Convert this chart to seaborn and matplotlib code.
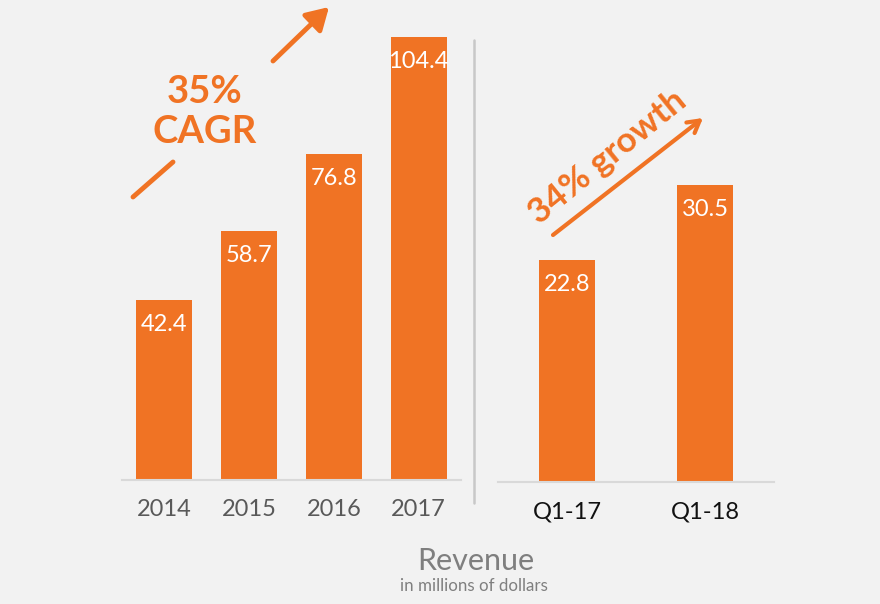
import matplotlib
matplotlib.use("Agg")

import matplotlib.pyplot as plt
import seaborn as sns
import pandas as pd

# Revenue data (millions of dollars)
years = ["2014", "2015", "2016", "2017"]
annual_revenue = [42.4, 58.7, 76.8, 104.4]
quarters = ["Q1-17", "Q1-18"]
quarter_revenue = [22.8, 30.5]

ORANGE = "#F07324"
BG = "#F2F2F2"
W, H = 880, 604

sns.set_theme(style="white")
plt.rcParams["font.family"] = ["Lato", "DejaVu Sans"]


def fig_xy(x, y):
    """Pixel position (top-left origin) -> figure fraction."""
    return (x / W, 1 - y / H)


fig = plt.figure(figsize=(W / 100, H / 100), dpi=100, facecolor=BG)

ax_left = fig.add_axes([122 / W, 124 / H, 339 / W, 466.7 / H])
ax_right = fig.add_axes([498 / W, 122 / H, 276 / W, 389 / H])

annual_df = pd.DataFrame({"year": years, "revenue": annual_revenue})
quarter_df = pd.DataFrame({"quarter": quarters, "revenue": quarter_revenue})

sns.barplot(data=annual_df, x="year", y="revenue", color=ORANGE, saturation=1,
            width=0.66, linewidth=0, ax=ax_left)
sns.barplot(data=quarter_df, x="quarter", y="revenue", color=ORANGE, saturation=1,
            width=0.40, linewidth=0, ax=ax_right)

ax_left.set_ylim(0, 110)
ax_left.set_xlim(-0.5, 3.5)
ax_right.set_ylim(0, 40)
ax_right.set_xlim(-0.5, 1.5)

for ax, tick_color in [(ax_left, "#595959"), (ax_right, "#111111")]:
    ax.set_facecolor(BG)
    for side in ["top", "right", "left"]:
        ax.spines[side].set_visible(False)
    ax.spines["bottom"].set_color("#D9D9D9")
    ax.spines["bottom"].set_linewidth(1.5)
    ax.set_yticks([])
    ax.set_xlabel("")
    ax.set_ylabel("")
    ax.tick_params(axis="x", length=0, pad=14, labelsize=17, labelcolor=tick_color)
    for patch in ax.patches:
        ax.annotate(
            f"{patch.get_height():.1f}",
            (patch.get_x() + patch.get_width() / 2, patch.get_height()),
            xytext=(0, -10), textcoords="offset points",
            ha="center", va="top", color="white", fontsize=17,
        )

# separator between annual and quarterly panels
fig.add_artist(plt.Line2D([474 / W, 474 / W], [1 - 40 / H, 1 - 503 / H],
                          color="#C8C8C8", linewidth=1.8))

# CAGR callout with a broken arrow around the text
fig.text(*fig_xy(205, 112), "35%\nCAGR", ha="center", va="center", color=ORANGE,
         fontsize=27.5, fontweight="bold", linespacing=1.2)
fig.add_artist(plt.Line2D([133 / W, 173 / W], [1 - 197 / H, 1 - 162 / H],
                          color=ORANGE, linewidth=3.5))
ax_left.annotate("", xy=fig_xy(329, 7), xycoords="figure fraction",
                 xytext=fig_xy(273, 61), textcoords="figure fraction",
                 arrowprops=dict(arrowstyle="-|>,head_length=1.1,head_width=0.65",
                                 color=ORANGE, lw=3.5, shrinkA=0, shrinkB=0),
                 annotation_clip=False)

# quarterly growth callout
ax_right.annotate("", xy=fig_xy(703, 118), xycoords="figure fraction",
                  xytext=fig_xy(553, 235), textcoords="figure fraction",
                  arrowprops=dict(arrowstyle="->,head_length=0.7,head_width=0.4",
                                  color=ORANGE, lw=3, shrinkA=0, shrinkB=0),
                  annotation_clip=False)
fig.text(*fig_xy(608, 157), "34% growth", ha="center", va="center", color=ORANGE,
         fontsize=25.5, fontweight="bold", rotation=39, rotation_mode="anchor")

# footer title
fig.text(*fig_xy(476, 561), "Revenue", ha="center", va="center", color="#7F7F7F",
         fontsize=22)
fig.text(*fig_xy(474, 586), "in millions of dollars", ha="center", va="center",
         color="#7F7F7F", fontsize=12.2)

fig.savefig("out.png", dpi=100, facecolor=BG)
plt.close(fig)
